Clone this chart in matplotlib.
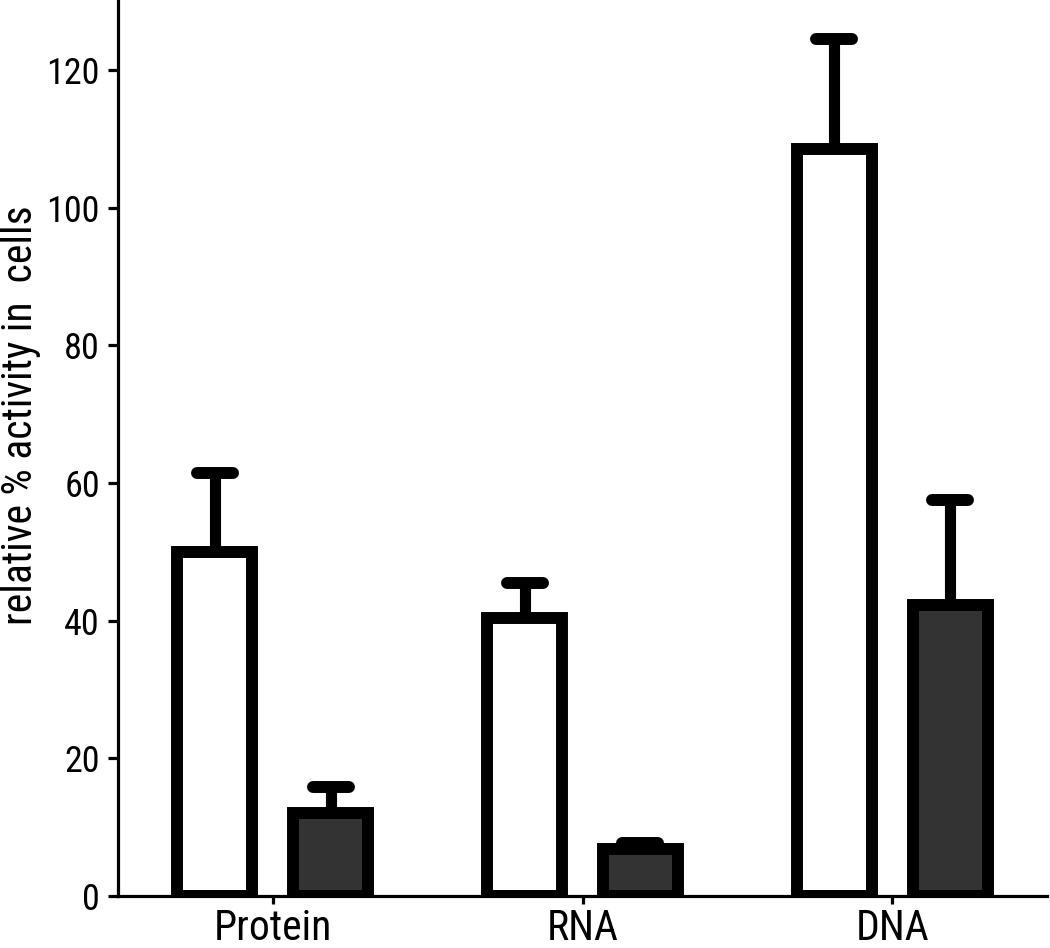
import matplotlib
matplotlib.use("Agg")
import matplotlib.pyplot as plt
import numpy as np

categories = ["Protein", "RNA", "DNA"]
control_values = [50.0, 40.4, 108.5]
control_err = [11.5, 5.1, 16.0]
treated_values = [12.0, 6.8, 42.3]
treated_err = [3.8, 0.9, 15.2]
y_ticks = [0, 20, 40, 60, 80, 100, 120]
ylabel = "relative % activity in  cells"

plt.rcParams['font.family'] = ['Roboto Condensed', 'Archivo Narrow', 'Liberation Sans', 'DejaVu Sans']

fig = plt.figure(figsize=(10.5, 9.48), dpi=100)
ax = fig.add_axes([118/1050, 52/948, (1047-118)/1050, 896/948])

x = np.arange(len(categories))
offset = 0.187
width = 0.242
lw = 8.6

xc = x - offset
xt = x + offset

# error stems (behind bars)
ax.vlines(xc, control_values, np.add(control_values, control_err), colors='black', linewidth=8, zorder=1)
ax.vlines(xt, treated_values, np.add(treated_values, treated_err), colors='black', linewidth=8, zorder=1)
capw = 0.058
c1 = ax.hlines(np.add(control_values, control_err), xc - capw, xc + capw, colors='black', linewidth=lw, zorder=1)
c2 = ax.hlines(np.add(treated_values, treated_err), xt - capw, xt + capw, colors='black', linewidth=lw, zorder=1)
c1.set_capstyle('round')
c2.set_capstyle('round')

ax.bar(xc, control_values, width=width, color='white', edgecolor='black', linewidth=lw, zorder=2)
ax.bar(xt, treated_values, width=width, color='#333333', edgecolor='black', linewidth=lw, zorder=2)

ax.set_xlim(-0.5, 2.5)
ax.set_ylim(0, 130.2)
ax.set_yticks(y_ticks)
ax.set_yticklabels([str(v) for v in y_ticks], fontsize=26)
ax.set_xticks(x)
ax.set_xticklabels(categories, fontsize=30)
ax.set_ylabel(ylabel, fontsize=30)
ax.yaxis.set_label_coords(-0.083, 0.537)

for s in ['top', 'right']:
    ax.spines[s].set_visible(False)
for s in ['left', 'bottom']:
    ax.spines[s].set_linewidth(2.3)
ax.tick_params(axis='y', length=7, width=2.3, pad=6)
ax.tick_params(axis='x', length=6, width=2.3, pad=3)

fig.savefig("out.png", dpi=100)
